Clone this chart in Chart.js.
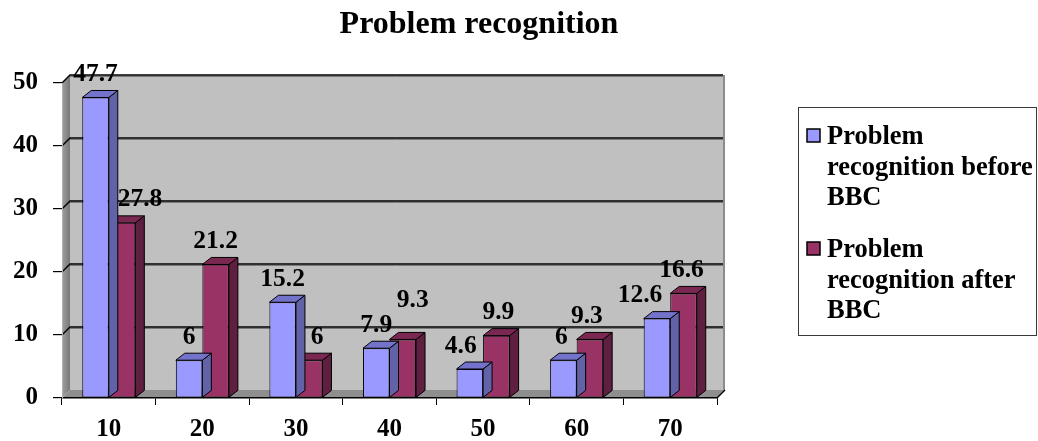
<!DOCTYPE html>
<html>
<head>
<meta charset="utf-8">
<script src="https://cdn.jsdelivr.net/npm/chart.js@4"></script>
<style>
    html, body { margin: 0; padding: 0; background: #ffffff; }
    #wrap { width: 1038px; height: 441px; }
</style>
</head>
<body>
<div id="wrap"><canvas id="bbcChart" width="1038" height="441"></canvas></div>
<script>
// Chart data
const categories = ['10', '20', '30', '40', '50', '60', '70'];
const beforeBBC = [47.7, 6, 15.2, 7.9, 4.6, 6, 12.6];
const afterBBC = [27.8, 21.2, 6, 9.3, 9.9, 9.3, 16.6];
const seriesNames = ['Problem recognition before BBC', 'Problem recognition after BBC'];
const chartTitle = 'Problem recognition';
const yMax = 50;
const yStep = 10;

// small label nudges (px) where labels were moved off the bars
const labelNudge = [
    [[0, 0], [0, 0], [0, 0], [0, 0], [-9, 0], [-2, 0], [-17, 0]],
    [[18, 0], [0, 0], [8, 0], [10, -16], [2, 0], [-3, 0], [-2, 0]]
];

const SERIF = "'Liberation Serif', 'Times New Roman', serif";
const faceColors = [
    { front: '#9999FF', top: '#7373CC', side: '#6262A8' },
    { front: '#993366', top: '#7A2852', side: '#5E1F40' }
];
const BAR_DX = 9, BAR_DY = -7;     // bar depth
const WALL_DX = 8, WALL_DY = -8;   // wall depth

const ctx = document.getElementById('bbcChart').getContext('2d');

// back wall, left wall, floor and gridlines
const wallsPlugin = {
    id: 'walls',
    beforeDraw(chart) {
        const c = chart.ctx;
        const { left, right, top, bottom } = chart.chartArea;
        const yScale = chart.scales.y;
        c.save();
        // back wall
        c.fillStyle = '#C0C0C0';
        c.fillRect(left + WALL_DX, top + WALL_DY, right - left, bottom - top);
        // right edge of back wall
        c.fillStyle = '#8C8C8C';
        c.fillRect(right + WALL_DX - 2, top + WALL_DY, 2, bottom - top);
        // left side wall
        c.beginPath();
        c.moveTo(left, top);
        c.lineTo(left + WALL_DX, top + WALL_DY);
        c.lineTo(left + WALL_DX, bottom + WALL_DY);
        c.lineTo(left, bottom);
        c.closePath();
        const g = c.createLinearGradient(left, 0, left + WALL_DX, 0);
        g.addColorStop(0, '#A0A0A0');
        g.addColorStop(1, '#777777');
        c.fillStyle = g;
        c.fill();
        // floor
        c.beginPath();
        c.moveTo(left, bottom);
        c.lineTo(left + WALL_DX, bottom + WALL_DY);
        c.lineTo(right + WALL_DX, bottom + WALL_DY);
        c.lineTo(right, bottom);
        c.closePath();
        c.fillStyle = '#8E8E8E';
        c.fill();
        // gridlines on back and side walls
        for (let v = yStep; v <= yMax; v += yStep) {
            const y = yScale.getPixelForValue(v);
            c.strokeStyle = '#7A7A7A';
            c.lineWidth = 1;
            c.beginPath();
            c.moveTo(left + WALL_DX, y + WALL_DY + 1.5);
            c.lineTo(right + WALL_DX - 2, y + WALL_DY + 1.5);
            c.stroke();
            c.strokeStyle = '#000000';
            c.lineWidth = 1.4;
            c.beginPath();
            c.moveTo(left, y);
            c.lineTo(left + WALL_DX, y + WALL_DY);
            c.lineTo(right + WALL_DX - 2, y + WALL_DY);
            c.stroke();
        }
        // floor right edge
        c.strokeStyle = '#000000';
        c.lineWidth = 1.2;
        c.beginPath();
        c.moveTo(right, bottom);
        c.lineTo(right + WALL_DX, bottom + WALL_DY);
        c.stroke();
        c.restore();
    }
};

// top and side faces of each bar, drawn before the front faces
const bar3dPlugin = {
    id: 'bar3d',
    beforeDatasetDraw(chart, args) {
        const c = chart.ctx;
        const colors = faceColors[args.index];
        c.save();
        c.strokeStyle = '#000000';
        c.lineWidth = 1;
        c.lineJoin = 'round';
        args.meta.data.forEach(bar => {
            const { x, y, base, width } = bar.getProps(['x', 'y', 'base', 'width'], true);
            const l = x - width / 2, r = x + width / 2;
            c.beginPath();
            c.moveTo(r, y);
            c.lineTo(r + BAR_DX, y + BAR_DY);
            c.lineTo(r + BAR_DX, base + BAR_DY);
            c.lineTo(r, base);
            c.closePath();
            c.fillStyle = colors.side;
            c.fill();
            c.stroke();
            c.beginPath();
            c.moveTo(l, y);
            c.lineTo(l + BAR_DX, y + BAR_DY);
            c.lineTo(r + BAR_DX, y + BAR_DY);
            c.lineTo(r, y);
            c.closePath();
            c.fillStyle = colors.top;
            c.fill();
            c.stroke();
        });
        c.restore();
    },
    afterDatasetsDraw(chart) {
        const c = chart.ctx;
        c.save();
        c.font = 'bold 25.5px ' + SERIF;
        c.fillStyle = '#000000';
        c.textAlign = 'center';
        c.textBaseline = 'alphabetic';
        chart.data.datasets.forEach((ds, di) => {
            chart.getDatasetMeta(di).data.forEach((bar, i) => {
                const nudge = labelNudge[di][i];
                c.fillText(String(ds.data[i]), bar.x + nudge[0], bar.y - 16.5 + nudge[1]);
            });
        });
        c.restore();
    }
};

// title and boxed legend with wrapped text
const frameTextPlugin = {
    id: 'frameText',
    afterDraw(chart) {
        const c = chart.ctx;
        c.save();
        c.fillStyle = '#000000';
        c.font = 'bold 32px ' + SERIF;
        c.textAlign = 'center';
        c.textBaseline = 'alphabetic';
        c.fillText(chartTitle, 479, 33);

        // legend box
        c.strokeStyle = '#3A3A3A';
        c.lineWidth = 1;
        c.strokeRect(798.5, 107.5, 238, 228);

        c.font = 'bold 26.5px ' + SERIF;
        c.textAlign = 'left';
        const textX = 827, wrapWidth = 225, lineH = 30.5;
        let baseY = 144;
        chart.data.datasets.forEach((ds, di) => {
            // swatch
            c.fillStyle = faceColors[di].front;
            c.fillRect(807, baseY - 15, 13, 13);
            c.strokeStyle = '#000000';
            c.lineWidth = 1.5;
            c.strokeRect(807, baseY - 15, 13, 13);
            // wrap words
            const words = ds.label.split(' ');
            const lines = [];
            let line = '';
            words.forEach(w => {
                const test = line ? line + ' ' + w : w;
                if (line && c.measureText(test).width > wrapWidth) {
                    lines.push(line);
                    line = w;
                } else {
                    line = test;
                }
            });
            if (line) lines.push(line);
            c.fillStyle = '#000000';
            lines.forEach((ln, k) => c.fillText(ln, textX, baseY + k * lineH));
            baseY += lines.length * lineH + 21.5;
        });
        c.restore();
    }
};

new Chart(ctx, {
    type: 'bar',
    data: {
        labels: categories,
        datasets: [
            {
                label: seriesNames[0],
                data: beforeBBC,
                backgroundColor: faceColors[0].front,
                borderColor: '#000000',
                borderWidth: 1,
                borderSkipped: false
            },
            {
                label: seriesNames[1],
                data: afterBBC,
                backgroundColor: faceColors[1].front,
                borderColor: '#000000',
                borderWidth: 1,
                borderSkipped: false
            }
        ]
    },
    options: {
        responsive: false,
        animation: false,
        layout: { padding: { left: 0, right: 321, top: 83, bottom: 0 } },
        datasets: {
            bar: { categoryPercentage: 0.567, barPercentage: 1 }
        },
        scales: {
            x: {
                afterFit(scale) { scale.height = 43; },
                grid: {
                    offset: true,
                    drawOnChartArea: false,
                    drawTicks: true,
                    tickLength: 7,
                    color: '#000000',
                    lineWidth: 1
                },
                border: { display: true, color: '#000000', width: 1.5 },
                ticks: {
                    color: '#000000',
                    padding: 10,
                    font: { family: SERIF, size: 25, weight: 'bold' }
                }
            },
            y: {
                min: 0,
                max: yMax,
                afterFit(scale) { scale.width = 62; },
                grid: {
                    drawOnChartArea: false,
                    drawTicks: true,
                    tickLength: 9,
                    color: '#000000',
                    lineWidth: 1.2
                },
                border: { display: true, color: '#B0B0B0', width: 1 },
                ticks: {
                    stepSize: yStep,
                    color: '#000000',
                    padding: 15,
                    font: { family: SERIF, size: 25, weight: 'bold' }
                }
            }
        },
        plugins: {
            legend: { display: false },
            tooltip: { enabled: false },
            title: { display: false }
        }
    },
    plugins: [wallsPlugin, bar3dPlugin, frameTextPlugin]
});
</script>
</body>
</html>
